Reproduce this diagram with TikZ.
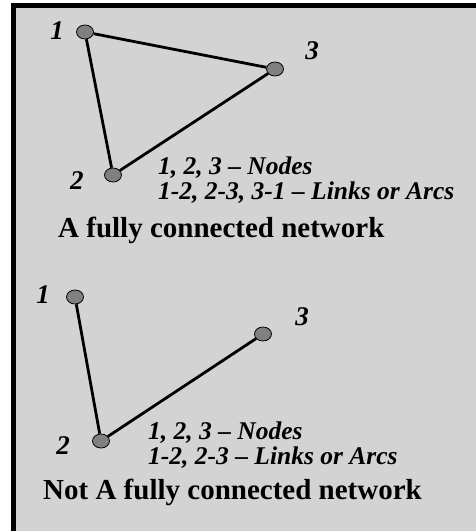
\documentclass[tikz,border=0pt]{standalone}
\usepackage{fontspec}
\setmainfont{Liberation Serif}
\usetikzlibrary{shapes.geometric}
\definecolor{panelgray}{RGB}{211,211,211}
\definecolor{nodegray}{RGB}{128,128,128}
\begin{document}
\begin{tikzpicture}[x=1pt, y=-1pt,
    vertex/.style={ellipse, draw=black, line width=0.8pt, fill=nodegray,
        minimum width=17pt, minimum height=14pt, inner sep=0pt},
    link/.style={line width=2.8pt},
    numlabel/.style={font=\fontsize{27}{27}\selectfont\bfseries\itshape, inner sep=0pt},
    legend/.style={font=\fontsize{25.5}{26}\selectfont\bfseries\itshape, anchor=west, inner sep=0pt},
    caption/.style={font=\fontsize{29}{30}\selectfont\bfseries, anchor=west, inner sep=0pt}]
    \useasboundingbox (0,0) rectangle (476,531);

    % Panel with black edge on top and left
    \fill[white] (0,0) rectangle (476,531);
    \fill[black] (11,3) rectangle (476,531);
    \fill[panelgray] (16,8) rectangle (476,531);

    % Fully connected network (top)
    \node[vertex] (a1) at (85,32) {};
    \node[vertex] (a2) at (113,175) {};
    \node[vertex] (a3) at (275,69) {};
    \node[numlabel] (la1) at (57,31) {1};
    \node[numlabel] (la2) at (77,181) {2};
    \node[numlabel] (la3) at (312,51) {3};
    \draw[link] (a1) -- (a3);
    \draw[link] (a1) -- (a2);
    \draw[link] (a2) -- (a3);
    \node[legend] (anodes) at (158,168) {1, 2, 3 – Nodes};
    \node[legend] (alinks) at (158,193) {1-2, 2-3, 3-1 – Links or Arcs};
    \node[caption] (atitle) at (58,230) {A fully connected network};

    % Not fully connected network (bottom)
    \node[vertex] (b1) at (75,297) {};
    \node[vertex] (b2) at (101,441) {};
    \node[vertex] (b3) at (263,334) {};
    \node[numlabel] (lb1) at (43,295) {1};
    \node[numlabel] (lb2) at (63,446) {2};
    \node[numlabel] (lb3) at (302,317) {3};
    \draw[link] (b1) -- (b2);
    \draw[link] (b2) -- (b3);
    \node[legend] (bnodes) at (148,433) {1, 2, 3 – Nodes};
    \node[legend] (blinks) at (148,458) {1-2, 2-3 – Links or Arcs};
    \node[caption] (btitle) at (43,492) {Not A fully connected network};
\end{tikzpicture}
\end{document}
